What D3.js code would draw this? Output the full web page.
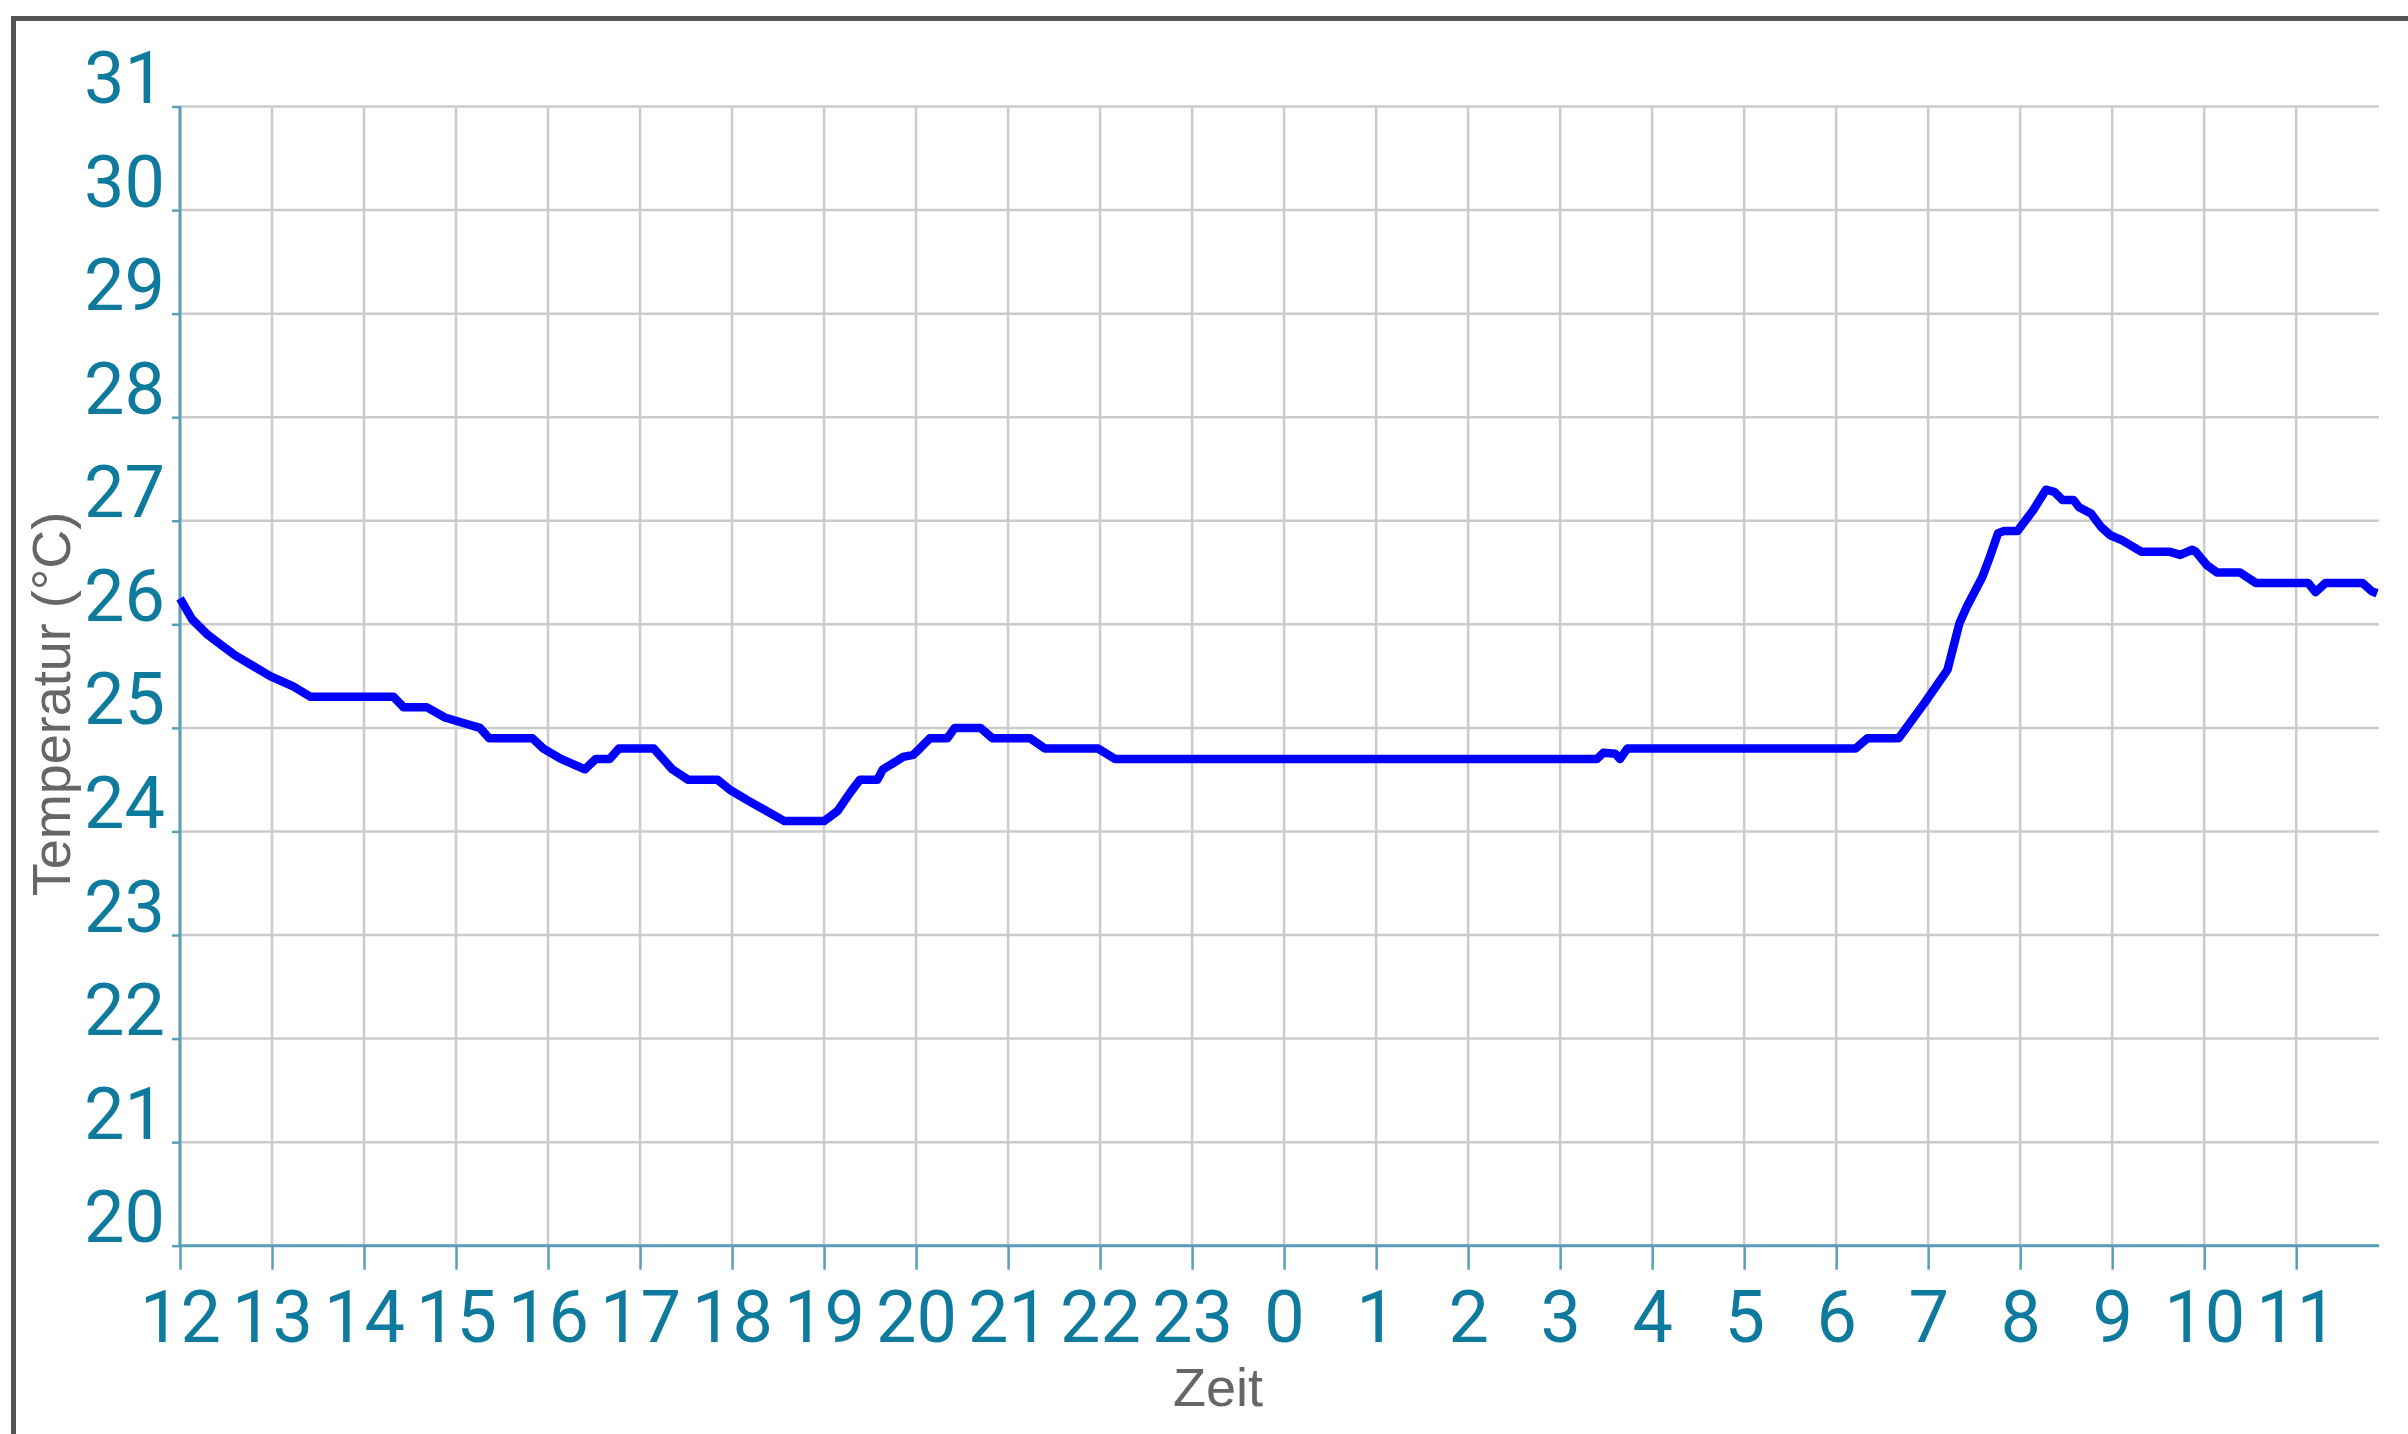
<!DOCTYPE html>
<html>
<head>
<meta charset="utf-8">
<title>Temperatur</title>
<script src="https://cdn.jsdelivr.net/npm/d3@7"></script>
<style>
  body { margin: 0; background: #fff; }
</style>
</head>
<body>
<div id="chart"></div>
<script>

// hours after 12:00 and temperature readings
var zeit = [0.00, 0.13, 0.30, 0.45, 0.60, 0.79, 0.98, 1.23, 1.42, 2.32, 2.43, 2.68, 2.88, 3.07, 3.26, 3.36,
  3.83, 3.95, 4.14, 4.40, 4.52, 4.67, 4.77, 5.15, 5.35, 5.52, 5.84, 5.98, 6.17, 6.37, 6.57, 7.00,
  7.15, 7.28, 7.39, 7.58, 7.64, 7.77, 7.86, 7.97, 8.04, 8.15, 8.34, 8.42, 8.70, 8.83, 9.24, 9.40,
  9.98, 10.16, 15.40, 15.47, 15.60, 15.65, 15.73, 18.21, 18.34, 18.68, 18.96, 19.21, 19.34, 19.42,
  19.59, 19.67, 19.76, 19.82, 19.97, 20.14, 20.28, 20.37, 20.46, 20.58, 20.64, 20.77, 20.88, 20.98,
  21.11, 21.32, 21.63, 21.74, 21.87, 21.91, 22.03, 22.14, 22.39, 22.56, 23.13, 23.21, 23.32, 23.72,
  23.82, 23.88];
var temperatur = [26.25, 26.05, 25.9, 25.8, 25.7, 25.6, 25.5, 25.4, 25.3, 25.3, 25.2, 25.2, 25.1, 25.05, 25.0, 24.9,
  24.9, 24.8, 24.7, 24.6, 24.7, 24.7, 24.8, 24.8, 24.6, 24.5, 24.5, 24.4, 24.3, 24.2, 24.1, 24.1,
  24.2, 24.37, 24.5, 24.5, 24.6, 24.67, 24.72, 24.74, 24.8, 24.9, 24.9, 25.0, 25.0, 24.9, 24.9, 24.8,
  24.8, 24.7, 24.7, 24.76, 24.75, 24.7, 24.8, 24.8, 24.9, 24.9, 25.24, 25.56, 26.01, 26.17,
  26.46, 26.65, 26.88, 26.9, 26.9, 27.1, 27.3, 27.28, 27.2, 27.2, 27.13, 27.07, 26.94, 26.86,
  26.81, 26.7, 26.7, 26.67, 26.72, 26.7, 26.57, 26.5, 26.5, 26.4, 26.4, 26.31, 26.4, 26.4,
  26.32, 26.3];

var yTicks = [20, 21, 22, 23, 24, 25, 26, 27, 28, 29, 30, 31];
var xTicks = d3.range(0, 24);
var xTickLabels = ["12", "13", "14", "15", "16", "17", "18", "19", "20", "21", "22", "23",
  "0", "1", "2", "3", "4", "5", "6", "7", "8", "9", "10", "11"];


LineChart = function(_parentElement, _data){
    this.parentElement = _parentElement;
    this.data = _data;

    this.initVis();
}

LineChart.prototype.initVis = function() {
    var vis = this;

    vis.width = 2408;
    vis.height = 1434;
    vis.left = 180;
    vis.right = 2379;
    vis.top = 106.5;
    vis.bottom = 1245.7;
    vis.labelColor = "#0e7a9e";
    vis.axisColor = "#5a9fb8";

    vis.svg = d3.select('#' + vis.parentElement)
        .append('svg')
        .attr('width', vis.width)
        .attr('height', vis.height)
        .style('display', 'block');

    // frame (only top and left edges are visible)
    vis.svg.append('path')
        .attr('d', 'M13.5,' + vis.height + 'V18.5H' + vis.width)
        .attr('fill', 'none')
        .attr('stroke', '#555')
        .attr('stroke-width', 5);

    vis.x = d3.scaleLinear()
        .domain([0, 23.9])
        .range([vis.left, vis.right]);
    vis.y = d3.scaleLinear()
        .domain([20, 31])
        .range([vis.bottom, vis.top]);

    // grid
    vis.svg.append('g')
        .selectAll('line')
        .data(yTicks)
        .enter()
        .append('line')
        .attr('x1', vis.left)
        .attr('x2', vis.right)
        .attr('y1', function(d){ return vis.y(d); })
        .attr('y2', function(d){ return vis.y(d); })
        .attr('stroke', '#cbcbcb')
        .attr('stroke-width', 2.5);
    vis.svg.append('g')
        .selectAll('line')
        .data(xTicks)
        .enter()
        .append('line')
        .attr('x1', function(d){ return vis.x(d); })
        .attr('x2', function(d){ return vis.x(d); })
        .attr('y1', vis.top)
        .attr('y2', vis.bottom)
        .attr('stroke', '#cbcbcb')
        .attr('stroke-width', 2.5);

    // axes
    vis.xAxis = d3.axisBottom(vis.x)
        .tickValues(xTicks)
        .tickSize(24)
        .tickFormat(function(d, i){ return xTickLabels[i]; });
    vis.yAxis = d3.axisLeft(vis.y)
        .tickValues(yTicks)
        .tickSize(8);

    var gx = vis.svg.append('g')
        .attr('transform', 'translate(0,' + vis.bottom + ')')
        .call(vis.xAxis);
    var gy = vis.svg.append('g')
        .attr('transform', 'translate(' + vis.left + ',0)')
        .call(vis.yAxis);

    [gx, gy].forEach(function(g){
        g.select('.domain')
            .attr('d', g === gx ? 'M' + vis.left + ',0H' + vis.right : 'M0,' + vis.top + 'V' + vis.bottom)
            .attr('stroke', vis.axisColor)
            .attr('stroke-width', 3);
        g.selectAll('.tick line')
            .attr('stroke', vis.axisColor)
            .attr('stroke-width', 2.5);
        g.selectAll('.tick text')
            .attr('fill', vis.labelColor)
            .style('font-family', 'Roboto, sans-serif')
            .style('font-size', '72px');
    });
    gx.selectAll('.tick text')
        .attr('y', 96)
        .attr('dy', 0);
    gy.selectAll('.tick text')
        .attr('x', -15)
        .attr('dy', -4)
        .attr('text-anchor', 'end');

    // axis titles
    vis.svg.append('text')
        .attr('x', 1218)
        .attr('y', 1406)
        .attr('text-anchor', 'middle')
        .style('font-family', '"Liberation Sans", Arial, sans-serif')
        .style('font-size', '54px')
        .attr('fill', '#666')
        .text('Zeit');
    vis.svg.append('text')
        .attr('transform', 'translate(70,704) rotate(-90)')
        .attr('text-anchor', 'middle')
        .style('font-family', '"Liberation Sans", Arial, sans-serif')
        .style('font-size', '54px')
        .attr('fill', '#666')
        .text('Temperatur (°C)');

    // temperature line
    vis.line = d3.line()
        .x(function(d){ return vis.x(d.zeit); })
        .y(function(d){ return vis.y(d.temp); });

    vis.svg.append('path')
        .datum(vis.data)
        .attr('d', vis.line)
        .attr('fill', 'none')
        .attr('stroke', '#0000ff')
        .attr('stroke-width', 8.5)
        .attr('stroke-linejoin', 'round');
};


var chartData = zeit.map(function(z, i){ return { zeit: z, temp: temperatur[i] }; });
var chart = new LineChart('chart', chartData);

</script>
</body>
</html>
